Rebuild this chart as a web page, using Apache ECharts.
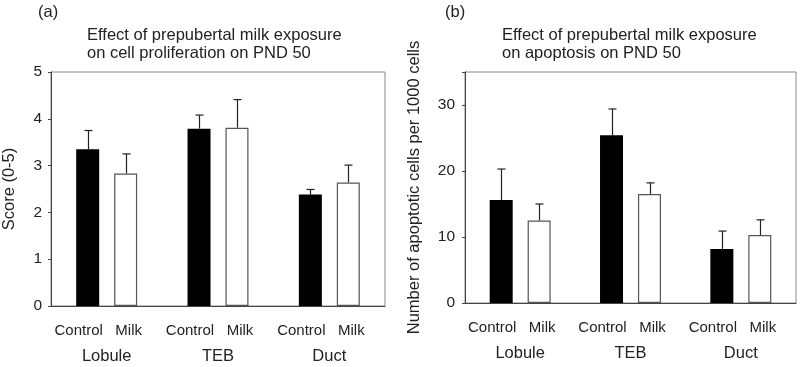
<!DOCTYPE html>
<html>
<head>
<meta charset="utf-8">
<script src="https://cdn.jsdelivr.net/npm/echarts@6/dist/echarts.min.js"></script>
<style>
  html, body { margin: 0; padding: 0; background: #fff; }
  #chart { width: 800px; height: 367px; }
</style>
</head>
<body>
<div id="chart"></div>
<script>
// groups on the x axis
const groups = ['Lobule', 'TEB', 'Duct'];

// (a) proliferation score, mean and upper error
const prolifControl = [3.35, 3.79, 2.38];
const prolifControlErr = [0.40, 0.29, 0.11];
const prolifMilk = [2.83, 3.81, 2.64];
const prolifMilkErr = [0.42, 0.60, 0.37];

// (b) apoptotic cells per 1000 cells
const apopControl = [15.6, 25.4, 8.2];
const apopControlErr = [4.7, 4.0, 2.7];
const apopMilk = [12.5, 16.5, 10.3];
const apopMilkErr = [2.5, 1.7, 2.3];

const FONT = 'Liberation Sans, Arial, sans-serif';
const BAR_W = 23;
const HALF_STEP = 19; // distance from group centre to bar centre

function errSeries(name, gridIdx, means, errs, shift) {
    return {
        name: name + ' err',
        type: 'custom',
        xAxisIndex: gridIdx,
        yAxisIndex: gridIdx,
        z: 1,
        data: means.map((m, i) => [i, m, errs[i]]),
        renderItem: function (params, api) {
            const i = api.value(0);
            const m = api.value(1);
            const e = api.value(2);
            const base = api.coord([i, m]);
            const top = api.coord([i, m + e]);
            const x = Math.round(base[0] + shift) + 0.5;
            const style = { stroke: '#222', lineWidth: 1.2 };
            return {
                type: 'group',
                children: [
                    { type: 'line', shape: { x1: x, y1: base[1], x2: x, y2: top[1] }, style: style },
                    { type: 'line', shape: { x1: x - 4, y1: top[1], x2: x + 4, y2: top[1] }, style: style }
                ]
            };
        }
    };
}

function barSeries(name, gridIdx, values, filled, labelShift) {
    return {
        name: name,
        type: 'bar',
        xAxisIndex: gridIdx,
        yAxisIndex: gridIdx,
        barWidth: BAR_W,
        barGap: '65%',
        z: 2,
        itemStyle: filled
            ? { color: '#000' }
            : { color: '#fff', borderColor: '#555', borderWidth: 1.2 },
        label: {
            show: true,
            position: 'bottom',
            distance: 17,
            offset: [labelShift, 0],
            formatter: name,
            color: '#222',
            fontSize: 15,
            fontFamily: FONT
        },
        data: values
    };
}

const xAxisBase = {
    type: 'category',
    data: groups,
    axisLine: { lineStyle: { color: '#444', width: 1 } },
    axisTick: { show: false },
    axisLabel: { margin: 42, fontSize: 16.5, color: '#222', fontFamily: FONT },
    splitLine: { show: false }
};

const yAxisBase = {
    type: 'value',
    nameLocation: 'middle',
    nameTextStyle: { fontSize: 16.5, color: '#222', fontFamily: FONT },
    axisLine: { show: true, lineStyle: { color: '#444' } },
    axisTick: { show: true, length: 3, lineStyle: { color: '#444' } },
    axisLabel: { fontSize: 15.5, color: '#222', fontFamily: FONT },
    splitLine: { show: false }
};

const titleStyle = { fontSize: 16.5, fontWeight: 'normal', color: '#222', fontFamily: FONT, lineHeight: 18 };
const tagStyle = { fontSize: 16.5, fontWeight: 'normal', color: '#222', fontFamily: FONT };

const chart = echarts.init(document.getElementById('chart'), null, { renderer: 'canvas' });

const option = {
    animation: false,
    backgroundColor: '#fff',
    title: [
        { text: '(a)', left: 38, top: 4, padding: 0, textStyle: tagStyle },
        { text: 'Effect of prepubertal milk exposure\non cell proliferation on PND 50', left: 87, top: 26, padding: 0, textStyle: titleStyle },
        { text: '(b)', left: 445, top: 4, padding: 0, textStyle: tagStyle },
        { text: 'Effect of prepubertal milk exposure\non apoptosis on PND 50', left: 502, top: 26, padding: 0, textStyle: titleStyle }
    ],
    grid: [
        { left: 51, top: 72, right: 415, bottom: 61, show: true, borderColor: '#888', borderWidth: 1 },
        { left: 465, top: 72, right: 4, bottom: 64, show: true, borderColor: '#888', borderWidth: 1 }
    ],
    xAxis: [
        Object.assign({ gridIndex: 0 }, xAxisBase),
        Object.assign({ gridIndex: 1 }, xAxisBase)
    ],
    yAxis: [
        Object.assign({}, yAxisBase, {
            gridIndex: 0, min: 0, max: 5, interval: 1,
            name: 'Score (0-5)', nameGap: 33,
            axisLabel: Object.assign({}, yAxisBase.axisLabel, { margin: 9 })
        }),
        Object.assign({}, yAxisBase, {
            gridIndex: 1, min: 0, max: 35, interval: 10,
            name: 'Number of apoptotic cells per 1000 cells', nameGap: 42,
            axisLabel: Object.assign({}, yAxisBase.axisLabel, {
                margin: 10,
                formatter: function (v) { return v % 10 === 0 ? String(v) : ''; }
            })
        })
    ],
    series: [
        barSeries('Control', 0, prolifControl, true, -9),
        barSeries('Milk', 0, prolifMilk, false, 3),
        errSeries('Control', 0, prolifControl, prolifControlErr, -HALF_STEP),
        errSeries('Milk', 0, prolifMilk, prolifMilkErr, HALF_STEP),
        barSeries('Control', 1, apopControl, true, -9),
        barSeries('Milk', 1, apopMilk, false, 3),
        errSeries('Control', 1, apopControl, apopControlErr, -HALF_STEP),
        errSeries('Milk', 1, apopMilk, apopMilkErr, HALF_STEP)
    ]
};

chart.setOption(option);
</script>
</body>
</html>
